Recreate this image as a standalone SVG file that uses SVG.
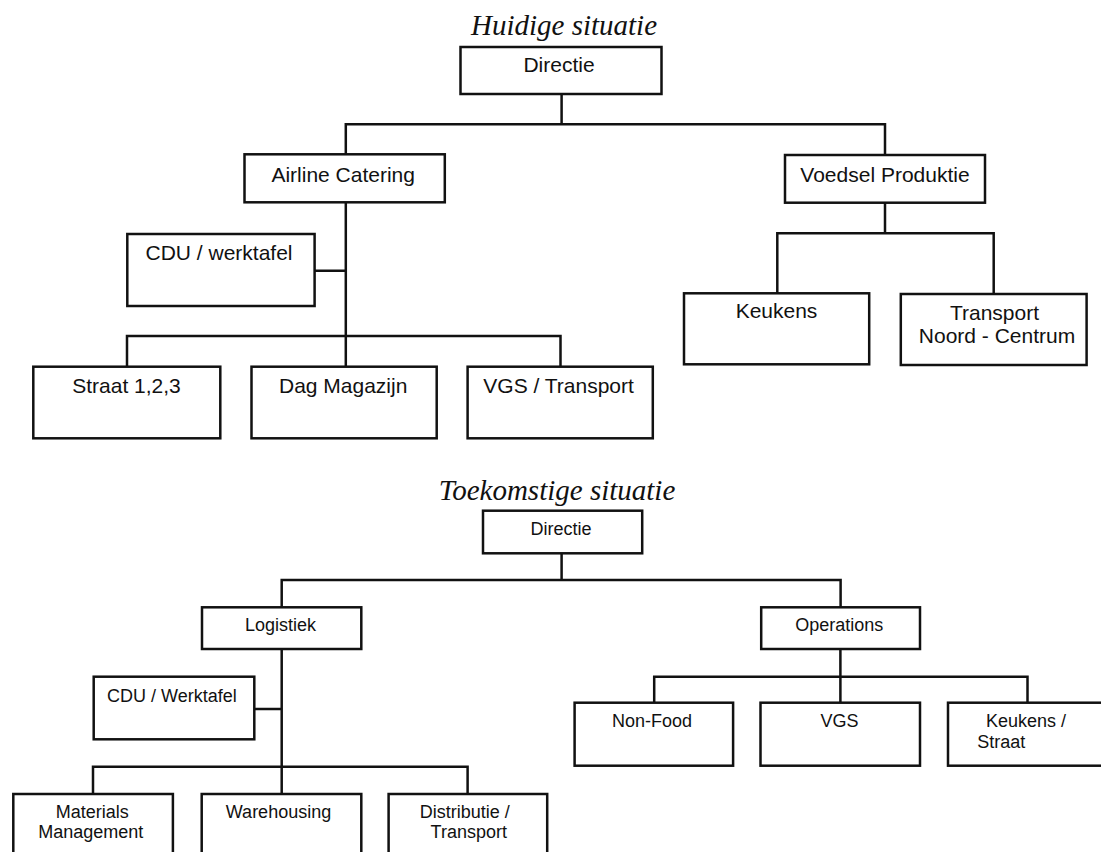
<svg xmlns="http://www.w3.org/2000/svg" width="1101" height="852" viewBox="0 0 1101 852">
<style>
.box{fill:#fff;stroke:#111;stroke-width:2.5}
.conn{fill:none;stroke:#111;stroke-width:2.5}
.t1{font-family:"Liberation Sans",Arial,sans-serif;font-size:21px;fill:#111;text-anchor:middle}
.t2{font-family:"Liberation Sans",Arial,sans-serif;font-size:18px;fill:#111;text-anchor:middle}
.ttl{font-family:"Liberation Serif","Times New Roman",serif;font-style:italic;font-size:29px;fill:#111;text-anchor:middle}
</style>
<rect x="0" y="0" width="1101" height="852" fill="#fff"/>
<text class="ttl" x="564" y="35">Huidige situatie</text>
<text class="ttl" x="557" y="500">Toekomstige situatie</text>
<g id="connectors">
<path class="conn" d="M561.6,94 V124.3 M345.8,154.3 V124.3 H885 V155"/>
<path class="conn" d="M345.8,202.3 V366.7 M314.6,270.7 H345.8 M127,366.7 V336 H560.5 V366.7"/>
<path class="conn" d="M885,202.7 V233.3 M777.3,293.3 V233.3 H993.7 V294"/>
<path class="conn" d="M561.6,553.3 V580 M281.7,607.3 V580 H840.6 V607.3"/>
<path class="conn" d="M281.7,649 V794 M254.3,709 H281.7 M93,794 V766.7 H467.6 V794"/>
<path class="conn" d="M840.4,649 V702.7 M654.2,702.7 V676.7 H1027.5 V702.7"/>
</g>
<g id="h-directie"><rect class="box" x="460.5" y="47" width="201" height="47"/><text class="t1" x="559" y="72">Directie</text></g>
<g id="h-airline"><rect class="box" x="244.5" y="154.3" width="200.3" height="48"/><text class="t1" x="343.2" y="181.7">Airline Catering</text></g>
<g id="h-voedsel"><rect class="box" x="785" y="155" width="200" height="47.7"/><text class="t1" x="885" y="182">Voedsel Produktie</text></g>
<g id="h-cdu"><rect class="box" x="127.3" y="234" width="187.3" height="72"/><text class="t1" x="219" y="260">CDU / werktafel</text></g>
<g id="h-straat"><rect class="box" x="33.3" y="366.7" width="187" height="71.6"/><text class="t1" x="126.5" y="393.3">Straat 1,2,3</text></g>
<g id="h-dag"><rect class="box" x="251.5" y="366.7" width="185.2" height="71.6"/><text class="t1" x="343.2" y="393.3">Dag Magazijn</text></g>
<g id="h-vgs"><rect class="box" x="467.6" y="366.7" width="185.2" height="71.6"/><text class="t1" x="558.6" y="393.3">VGS / Transport</text></g>
<g id="h-keukens"><rect class="box" x="684" y="293.3" width="185.2" height="71"/><text class="t1" x="776.5" y="318.3">Keukens</text></g>
<g id="h-transport"><rect class="box" x="900.8" y="294" width="185.8" height="71"/><text class="t1" x="994.5" y="320">Transport</text><text class="t1" x="997" y="342.7">Noord - Centrum</text></g>
<g id="f-directie"><rect class="box" x="483" y="510.7" width="159.2" height="42.6"/><text class="t2" x="561" y="535">Directie</text></g>
<g id="f-logistiek"><rect class="box" x="202" y="607.3" width="159.3" height="41.7"/><text class="t2" x="280.6" y="630.7">Logistiek</text></g>
<g id="f-operations"><rect class="box" x="761.2" y="607.3" width="158.8" height="41.7"/><text class="t2" x="839.3" y="630.7">Operations</text></g>
<g id="f-cdu"><rect class="box" x="93.7" y="676.7" width="160.6" height="62.6"/><text class="t2" x="171.9" y="701.7">CDU / Werktafel</text></g>
<g id="f-materials"><rect class="box" x="13.3" y="794" width="159.6" height="70"/><text class="t2" x="92.2" y="817.8">Materials</text><text class="t2" x="90.8" y="838.3">Management</text></g>
<g id="f-warehousing"><rect class="box" x="201.7" y="794" width="159.6" height="70"/><text class="t2" x="278.5" y="817.5">Warehousing</text></g>
<g id="f-distributie"><rect class="box" x="388.6" y="794" width="158.6" height="70"/><text class="t2" x="464.8" y="817.5">Distributie /</text><text class="t2" x="468.8" y="838.3">Transport</text></g>
<g id="f-nonfood"><rect class="box" x="574.6" y="702.7" width="158.5" height="63"/><text class="t2" x="652" y="726.7">Non-Food</text></g>
<g id="f-vgs"><rect class="box" x="760.5" y="702.7" width="159.5" height="63"/><text class="t2" x="839.5" y="726.7">VGS</text></g>
<g id="f-keukens"><rect class="box" x="948" y="702.7" width="160" height="63"/><text class="t2" x="986" y="726.7" style="text-anchor:start">Keukens /</text><text class="t2" x="977.3" y="748.3" style="text-anchor:start">Straat</text></g>
</svg>
